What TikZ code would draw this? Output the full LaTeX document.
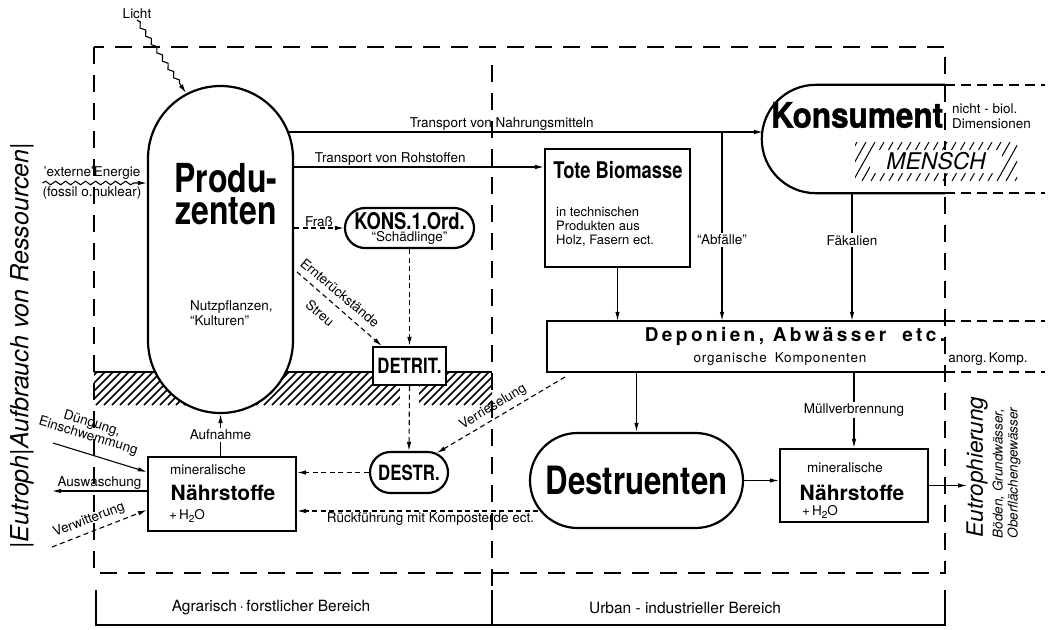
\documentclass[tikz,border=0pt]{standalone}
\usepackage{fontspec}
\setmainfont{TeX Gyre Heros}
\newfontfamily\condfont[FakeStretch=0.8]{TeX Gyre Heros}
\newfontfamily\konsfont[FakeStretch=0.9,FakeBold=1.2]{TeX Gyre Heros}
\usetikzlibrary{arrows.meta,shapes.misc,decorations.pathmorphing}

\newcommand{\Hzwo}{+\,H\raisebox{-2.5pt}{\fontsize{10}{10}\selectfont 2}O}

\tikzset{
  box/.style={draw,line width=2.2pt,inner sep=0pt},
  pill/.style={box,rounded rectangle},
  flow/.style={line width=1.1pt,-{Latex[length=9pt,width=4.5pt]}},
  dflow/.style={flow,dash pattern=on 5pt off 3.5pt},
  frame/.style={line width=1.8pt,dash pattern=on 17pt off 11pt},
  ext/.style={line width=1.8pt,dash pattern=on 10pt off 6pt},
  lbl/.style={font=\fontsize{13.5}{15}\selectfont,inner sep=1pt},
  cut/.style={lbl,fill=white,inner sep=2pt},
  wave/.style={decorate,decoration={snake,amplitude=1.8pt,segment length=10pt,post length=9pt}},
  hatch/.style={line width=1.6pt},
  big/.style={font=\condfont\bfseries\fontsize{#1}{#1}\selectfont},
}

\begin{document}
\begin{tikzpicture}[x=1pt,y=-1pt]
\useasboundingbox (0,0) rectangle (1051,629);

% Rahmen und Bereiche
\draw[frame] (94,47) rectangle (945,573);
\draw[frame] (492,65) -- (492,586);
\draw[line width=1.3pt] (96,590) -- (96,625) -- (945,625) -- (945,590);
\draw[line width=1.3pt] (492,590) -- (492,625);
\node[font=\fontsize{15.5}{17}\selectfont] (agrar) at (271,608) {Agrarisch\,·\,forstlicher Bereich};
\node[font=\fontsize{15.5}{17}\selectfont] (urban) at (685,608) {Urban - industrieller Bereich};

% Boden
\begin{scope}
\clip (94,372) rectangle (492,405);
\foreach \x in {56,64,...,500} \draw[hatch] (\x,405) -- ++(34,-34);
\end{scope}
\draw[hatch] (94,372) -- (492,372);
\fill[white] (400,386) rectangle (419,406);

% Produzenten
\node[box,fill=white,rounded corners=72.5pt,minimum width=145pt,minimum height=327pt] (prod) at (220.5,249.5) {};
\node[font=\condfont\bfseries\fontsize{40}{32}\selectfont,align=center] (prodtxt) at (226,194) {Produ-\\zenten};
\node[lbl,align=left,anchor=west] (kultur) at (189,313) {Nutzpflanzen,\\“Kulturen”};

% Licht, externe Energie
\node[lbl] (licht) at (137,14) {Licht};
\coordinate (lichtEnd) at (186,93);
\draw[flow,wave] (licht.south) -- (lichtEnd);
\node[lbl] (energie) at (92,173) {'externe'Energie};
\node[lbl] (fossil) at (92,193) {(fossil o.nuklear)};
\draw[flow,wave] (energie.west |- 0,183) -- (prod.west |- 0,183);

% Transporte
\coordinate (prodNE) at (288,132);
\coordinate (konsL) at (763,132);
\draw[flow] (prodNE) -- node[lbl,above,pos=0.45] (nahrung) {Transport von Nahrungsmitteln} (konsL);
\node[box,minimum width=145pt,minimum height=118pt] (tote) at (617.5,208) {};
\node[big=23] (totetitel) at (618,170) {Tote Biomasse};
\node[font=\fontsize{13}{14}\selectfont,align=left,anchor=west,inner sep=0pt] (totetext) at (556,227) {in technischen\\Produkten aus\\Holz, Fasern ect.};
\draw[flow] (prod.east |- 0,167) -- node[lbl,above,pos=0.385] (roh) {Transport von Rohstoffen} (tote.west |- 0,167);

% Konsument
\node[minimum width=183pt,minimum height=108pt,inner sep=0pt] (kons) at (853.5,139) {};
\draw[line width=2.2pt,rounded corners=54pt] (kons.north east) -- (kons.north west) -- (kons.south west) -- (kons.south east);
\draw[ext] (kons.north east) -- ++(100,0);
\draw[ext] (kons.south east) -- ++(100,0);
\node[font=\konsfont\bfseries\fontsize{35}{35}\selectfont,inner sep=0pt] (konstxt) at (857,115) {Konsument};
\node[lbl,align=left,anchor=west] (nichtbio) at (951,116) {nicht - biol.\\Dimensionen};
\begin{scope}
\clip (855,142) rectangle (1017,181);
\foreach \x in {835,844,...,1020} \draw[line width=1pt] (\x,181) -- ++(22,-39);
\end{scope}
\node[fill=white,rounded corners=5pt,minimum width=132pt,minimum height=23pt,inner sep=0pt,font=\itshape\fontsize{23}{23}\selectfont] (mensch) at (936,161.5) {MENSCH};

% Deponien
\node[minimum width=398pt,minimum height=51pt,inner sep=0pt] (dep) at (746,346.5) {};
\draw[line width=2.2pt] (dep.north east) -- (dep.north west) -- (dep.south west) -- (dep.south east);
\draw[ext] (dep.north east) -- ++(100,0);
\draw[ext] (dep.south east) -- ++(100,0);
\node[font={\bfseries\fontsize{19}{19}\selectfont\addfontfeature{LetterSpace=18}}] (deptitel) at (795,336) {Deponien, Abwässer\hspace{16pt}etc.};
\node[font={\fontsize{13.5}{15}\selectfont\addfontfeature{LetterSpace=6}}] (organisch) at (780,359) {organische\hspace{8pt}Komponenten};
\node[lbl] (anorg) at (988,359) {anorg.\,Komp.};
\coordinate (abf) at (722,132);
\coordinate (konsS) at (852,193);
\draw[flow] (abf) -- node[cut,pos=0.57] (abfaelle) {“Abfälle”} (abf |- dep.north);
\draw[flow] (konsS) -- node[cut,pos=0.37] (faek) {Fäkalien} (konsS |- dep.north);
\draw[flow] (tote.south) -- (tote.south |- dep.north);

% Konsumenten 1. Ordnung, Detritus, Destruenten
\node[pill,fill=white,minimum width=129pt,minimum height=40pt,align=center,font=\fontsize{13.5}{12}\selectfont] (kons1) at (409.5,228) {{\condfont\bfseries\fontsize{23}{23}\selectfont KONS.1.Ord.}\\“Schädlinge”};
\node[box,fill=white,minimum width=73pt,minimum height=38pt,big=21] (detrit) at (409.5,366) {DETRIT.};
\node[pill,minimum width=78pt,minimum height=41pt,big=21] (destr) at (409,472.5) {DESTR.};
\draw[dflow] (prod.east |- kons1.west) -- node[lbl,above] (frass) {Fraß} (kons1.west);
\draw[dflow] (kons1.south) -- (detrit.north);
\draw[dflow] (detrit.south) -- (destr.north);
\coordinate (ernte) at (297,272);
\draw[dflow] (ernte) -- (detrit.144);
\node[lbl,rotate=-40] (ernterueck) at (340,293) {Ernterückstände};
\node[lbl,rotate=-40] (streu) at (320,313) {Streu};
\coordinate (verr) at (565,377);
\draw[dflow] (verr) -- (destr.35);
\node[lbl,rotate=31] (verriesel) at (493,407) {Verrieselung};

\node[pill,minimum width=213pt,minimum height=95pt,big=39] (destru) at (636.5,480.5) {Destruenten};

% mineralische Naehrstoffe
\node[box,minimum width=148pt,minimum height=74pt] (naehrL) at (222,494) {};
\node[lbl] at (208,470) {mineralische};
\node[font=\bfseries\fontsize{21}{21}\selectfont] at (223,493) {Nährstoffe};
\node[lbl] at (187,516) {\Hzwo};
\node[box,minimum width=148pt,minimum height=73pt] (naehrR) at (854,485.5) {};
\node[lbl] at (845,468) {mineralische};
\node[font=\bfseries\fontsize{21}{21}\selectfont] at (852,493) {Nährstoffe};
\node[lbl] at (820,512) {\Hzwo};

\draw[dflow] (destr.west) -- (naehrL.east |- destr.west);
\coordinate (rueck) at (538,511);
\draw[dflow] (rueck) -- node[lbl,below,pos=0.446] (kompost) {Rückführung mit Komposterde ect.} (naehrL.east |- rueck);
\draw[flow] (dep.south -| destru.north) -- (destru.north);
\draw[flow] (dep.south -| naehrR.north) -- node[cut] (muell) {Müllverbrennung} (naehrR.north);
\draw[flow] (destru.east) -- (naehrR.west |- destru.east);
\coordinate (eutro) at (967,485.5);
\draw[flow] (naehrR.east) -- (eutro);

\draw[flow] (naehrL.north -| prod.south) -- node[cut] (aufnahme) {Aufnahme} (prod.south);
\coordinate (dueng) at (53,443);
\draw[flow] (dueng) -- (naehrL.west |- 0,472);
\node[lbl,rotate=-17,align=center,font=\fontsize{13.5}{13}\selectfont] (duengung) at (90,430) {Düngung,\\Einschwemmung};
\coordinate (ausw) at (52,491);
\draw[flow] (naehrL.west |- ausw) -- node[lbl,above] (auswaschung) {Auswaschung} (ausw);
\coordinate (verw) at (52,547);
\draw[dflow] (verw) -- (naehrL.west |- 0,510);
\node[lbl,rotate=21] (verwitterung) at (89,520) {Verwitterung};

% Raender
\node[rotate=90,font=\itshape\fontsize{25}{25}\selectfont] (ressourcen) at (22,346) {|Eutroph|Aufbrauch von Ressourcen|};
\node[rotate=90,font=\itshape\fontsize{22.5}{22.5}\selectfont] (eutroph) at (977,467) {Eutrophierung};
\node[rotate=90,align=left,font=\itshape\fontsize{13.5}{15}\selectfont] (gewaesser) at (1006.5,473) {Böden, Grundwässer,\\Oberflächengewässer};
\end{tikzpicture}
\end{document}
